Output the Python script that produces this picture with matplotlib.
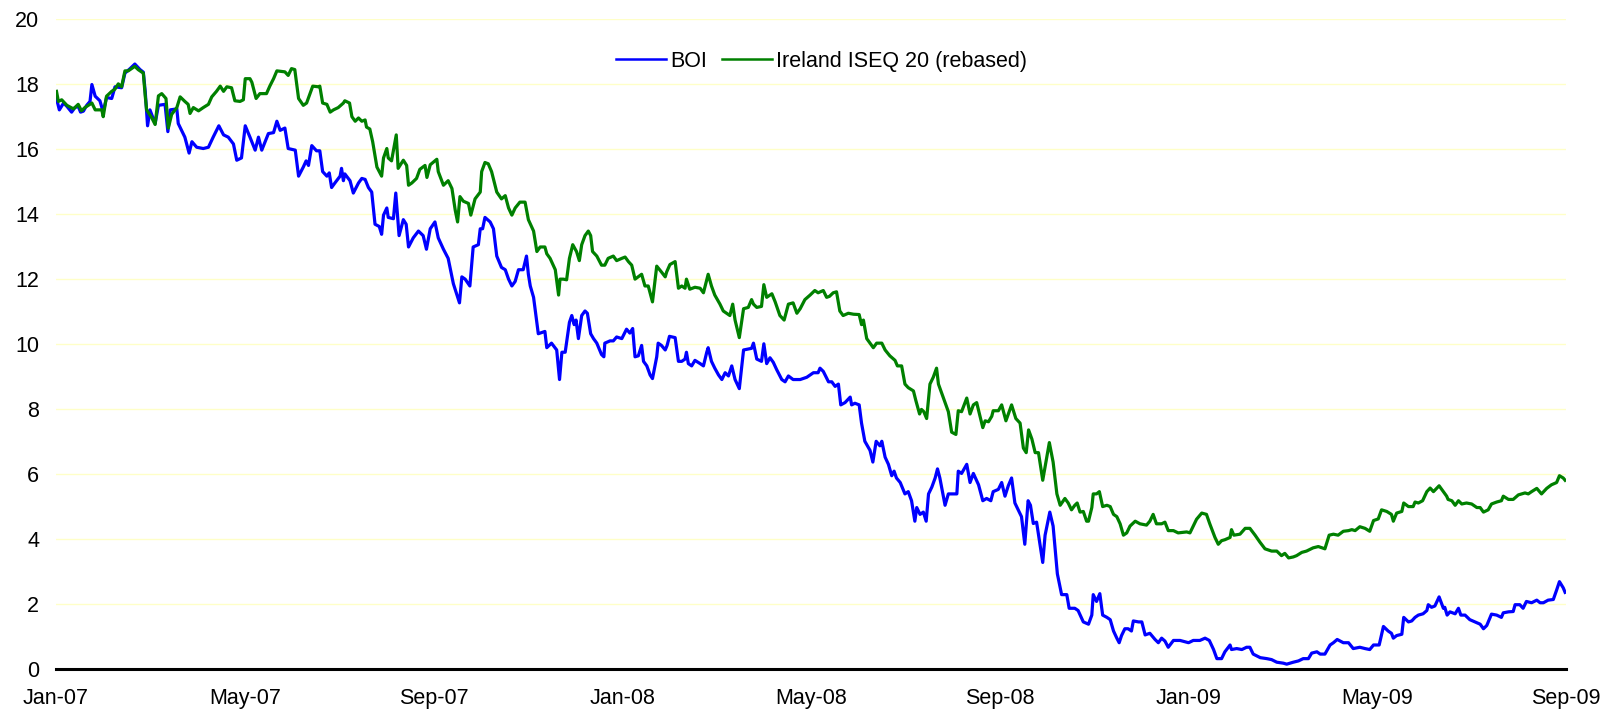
import matplotlib
matplotlib.use("Agg")
import matplotlib.pyplot as plt

plt.rcParams['font.family'] = ['Liberation Sans', 'DejaVu Sans']

# x positions are months since Jan-07
tick_pos = [0, 4, 8, 12, 16, 20, 24, 28, 32]
tick_labels = ["Jan-07", "May-07", "Sep-07", "Jan-08", "May-08", "Sep-08", "Jan-09", "May-09", "Sep-09"]

boi_m = [0.01, 0.07, 0.16, 0.23, 0.33, 0.40, 0.47, 0.52, 0.58, 0.65, 0.72, 0.76, 0.83, 0.93, 1.00, 1.07, 1.18, 1.25, 1.39, 1.46,
         1.57, 1.67, 1.78, 1.85, 1.89, 1.94, 1.99, 2.10, 2.17, 2.31, 2.37, 2.42, 2.56, 2.59, 2.73, 2.82, 2.88, 2.98, 3.12, 3.23,
         3.33, 3.45, 3.55, 3.65, 3.76, 3.83, 3.93, 4.01, 4.11, 4.22, 4.29, 4.36, 4.50, 4.61, 4.68, 4.75, 4.85, 4.92, 5.07, 5.14,
         5.24, 5.30, 5.35, 5.42, 5.52, 5.59, 5.65, 5.74, 5.79, 5.84, 5.91, 6.02, 6.05, 6.09, 6.12, 6.23, 6.30, 6.41, 6.48, 6.55,
         6.62, 6.69, 6.76, 6.85, 6.90, 6.94, 7.01, 7.04, 7.15, 7.20, 7.27, 7.36, 7.42, 7.47, 7.57, 7.68, 7.78, 7.85, 7.93, 8.03,
         8.10, 8.21, 8.31, 8.42, 8.55, 8.60, 8.67, 8.77, 8.84, 8.95, 8.99, 9.04, 9.09, 9.20, 9.27, 9.34, 9.44, 9.52, 9.59, 9.66,
         9.73, 9.80, 9.90, 9.97, 10.01, 10.05, 10.12, 10.22, 10.36, 10.40, 10.50, 10.61, 10.67, 10.72, 10.79, 10.88,
         10.93, 10.98, 11.02, 11.07, 11.14, 11.21, 11.26, 11.33, 11.39, 11.46, 11.56, 11.61, 11.63, 11.74, 11.81, 11.88, 11.99,
         12.09, 12.16, 12.22, 12.27, 12.34, 12.41, 12.45, 12.52, 12.59, 12.64, 12.73, 12.76, 12.83, 12.91, 12.95, 13.00, 13.12,
         13.19, 13.26, 13.33, 13.36, 13.40, 13.47, 13.54, 13.65, 13.72, 13.79, 13.82, 13.89, 13.96, 14.04, 14.11, 14.18, 14.25,
         14.32, 14.39, 14.48, 14.57, 14.74, 14.78, 14.85, 14.95, 15.00, 15.06, 15.13, 15.20, 15.27, 15.38, 15.45, 15.52, 15.62,
         15.77, 15.91, 16.05, 16.15, 16.19, 16.26, 16.37,
         16.44, 16.51, 16.58, 16.63, 16.72, 16.83, 16.86, 16.93, 17.02, 17.07, 17.14, 17.25, 17.31, 17.38, 17.46, 17.50, 17.57,
         17.64, 17.71, 17.76, 17.81, 17.89, 17.99, 18.06, 18.13, 18.20, 18.24, 18.31, 18.38, 18.44, 18.49, 18.56, 18.63, 18.68,
         18.73, 18.84, 18.91, 18.98, 19.09, 19.12, 19.19, 19.30, 19.37, 19.44, 19.55, 19.64, 19.72, 19.81, 19.86, 19.97, 20.04,
         20.11, 20.18, 20.25, 20.32, 20.46, 20.53, 20.60, 20.65, 20.71, 20.78, 20.85, 20.91, 20.96, 21.06, 21.13, 21.22, 21.31,
         21.42, 21.47, 21.59, 21.66, 21.77, 21.88, 21.95, 21.98, 22.05, 22.12, 22.18, 22.27, 22.34, 22.41, 22.48, 22.53, 22.58,
         22.65, 22.72, 22.79, 22.83, 22.94, 23.01, 23.08, 23.18, 23.29, 23.36, 23.43, 23.50, 23.57, 23.68, 23.82, 24.00, 24.10,
         24.24, 24.35, 24.44, 24.53, 24.60, 24.70, 24.77, 24.88, 24.91, 25.02, 25.13, 25.23, 25.30, 25.37, 25.52, 25.66, 25.76,
         25.87, 26.01, 26.08, 26.22, 26.33, 26.43, 26.54, 26.61, 26.72, 26.79, 26.89, 27.00, 27.07, 27.15, 27.28,
         27.39, 27.49, 27.63, 27.74, 27.84, 27.92, 28.04, 28.13, 28.23, 28.30, 28.34, 28.41, 28.52, 28.56, 28.66, 28.73, 28.80,
         28.87, 28.97, 29.05, 29.08, 29.15, 29.22, 29.31, 29.40, 29.43, 29.48, 29.54, 29.65, 29.72, 29.77, 29.86, 29.96, 30.07,
         30.18, 30.25, 30.32, 30.42, 30.53, 30.63, 30.67, 30.78, 30.88, 30.92, 31.02, 31.09, 31.16, 31.27, 31.38, 31.45, 31.52,
         31.62, 31.73, 31.80, 31.86, 31.94, 31.98]
boi_v = [17.56, 17.21, 17.42, 17.32, 17.14, 17.28, 17.32, 17.14, 17.17, 17.35, 17.47, 17.99, 17.63, 17.49, 17.14, 17.59, 17.56, 17.92, 17.89, 18.34,
         18.48, 18.62, 18.45, 18.37, 17.78, 16.72, 17.21, 16.79, 17.35, 17.38, 16.54, 17.21, 17.24, 16.79, 16.37, 15.88, 16.23, 16.06, 16.02, 16.06,
         16.37, 16.72, 16.44, 16.37, 16.16, 15.66, 15.73, 16.72, 16.37, 15.97, 16.37, 15.97, 16.48, 16.51, 16.86, 16.58, 16.65, 16.02, 15.97, 15.17,
         15.45, 15.64, 15.50, 16.11, 15.95, 15.95, 15.31, 15.17, 15.27, 14.82, 14.96, 15.17, 15.41, 15.03, 15.24, 15.03, 14.65, 14.96, 15.10, 15.07,
         14.82, 14.68, 13.69, 13.62, 13.38, 13.97, 14.19, 13.90, 13.86, 14.65, 13.34, 13.83, 13.69, 12.99, 13.27, 13.48, 13.34, 12.92, 13.55, 13.76,
         13.27, 12.92, 12.64, 11.86, 11.27, 12.07, 12.00, 11.79, 12.99, 13.06, 13.55, 13.55, 13.90, 13.76, 13.55, 12.71, 12.36, 12.29, 12.00, 11.79,
         11.93, 12.29, 12.29, 12.71, 12.15, 11.79, 11.44, 10.32, 10.39, 9.89, 10.03, 9.82, 8.91, 9.75, 9.75, 10.67,
         10.88, 10.60, 10.74, 10.17, 10.88, 11.02, 10.95, 10.32, 10.17, 10.03, 9.68, 9.61, 10.03, 10.10, 10.10, 10.22, 10.17,
         10.46, 10.34, 10.48, 9.61, 9.64, 9.96, 9.47, 9.33, 9.05, 8.94, 9.61, 10.03, 9.96, 9.82, 9.96, 10.24, 10.20,
         9.47, 9.47, 9.54, 9.75, 9.40, 9.33, 9.50, 9.40, 9.33, 9.75, 9.89, 9.47, 9.26, 9.05, 8.91, 9.12, 9.02,
         9.33, 8.91, 8.63, 9.82, 9.87, 10.03, 9.54, 9.47, 10.01, 9.40, 9.58, 9.44, 9.22, 8.91, 8.84, 9.02, 8.91,
         8.91, 8.98, 9.12, 9.12, 9.26, 9.16, 8.84,
         8.84, 8.70, 8.77, 8.13, 8.20, 8.37, 8.13, 8.18, 8.13, 7.57, 7.01, 6.73, 6.37, 7.01, 6.87, 7.01, 6.52,
         6.30, 5.95, 6.09, 5.88, 5.74, 5.39, 5.46, 5.18, 4.55, 4.97, 4.76, 4.83, 4.55, 5.39, 5.60, 5.88, 6.16,
         5.88, 5.04, 5.39, 5.39, 5.39, 6.09, 6.02, 6.30, 5.74, 6.02, 5.67, 5.18, 5.25, 5.18, 5.46, 5.53, 5.74,
         5.32, 5.64, 5.88, 5.11, 4.69, 3.84, 5.18, 5.04, 4.48, 4.52, 3.84, 3.28, 4.12, 4.83, 4.40, 2.93, 2.29,
         2.29, 1.87, 1.87, 1.80, 1.45, 1.38, 1.66, 2.29, 2.08, 2.32, 1.66, 1.59, 1.52, 1.17, 0.95, 0.81, 1.03,
         1.24, 1.24, 1.17, 1.48, 1.45, 1.45, 1.05, 1.10, 0.91, 0.81, 0.95, 0.86, 0.67, 0.88, 0.88, 0.81, 0.88,
         0.88, 0.95, 0.88, 0.60, 0.32, 0.32, 0.53, 0.74, 0.60, 0.63, 0.60, 0.67, 0.67, 0.46, 0.35, 0.32, 0.29,
         0.21, 0.18, 0.15, 0.21, 0.25, 0.32, 0.32, 0.49, 0.53, 0.46, 0.46, 0.74, 0.81, 0.91, 0.81,
         0.81, 0.63, 0.67, 0.63, 0.60, 0.74, 0.74, 1.31, 1.17, 1.10, 0.95, 1.03, 1.07, 1.59, 1.45, 1.48, 1.59,
         1.66, 1.70, 1.80, 1.98, 1.90, 1.94, 2.22, 1.87, 1.90, 1.66, 1.76, 1.70, 1.87, 1.66, 1.66, 1.52, 1.45,
         1.38, 1.24, 1.34, 1.69, 1.66, 1.59, 1.73, 1.76, 1.77, 1.98, 1.98, 1.87, 2.08, 2.04, 2.12, 2.04, 2.04,
         2.12, 2.14, 2.43, 2.69, 2.50, 2.36]

iseq_m = [0.01, 0.05, 0.12, 0.23, 0.37, 0.47, 0.54, 0.61, 0.76, 0.83, 0.97, 1.00, 1.07, 1.18, 1.25, 1.32, 1.39, 1.46, 1.53, 1.67,
          1.74, 1.85, 1.89, 1.92, 2.03, 2.10, 2.17, 2.24, 2.33, 2.38, 2.45, 2.56, 2.63, 2.73, 2.80, 2.84, 2.91, 3.02, 3.12, 3.23,
          3.30, 3.40, 3.48, 3.55, 3.62, 3.72, 3.79, 3.90, 3.97, 4.01, 4.11, 4.15, 4.24, 4.32, 4.46, 4.53, 4.61, 4.68, 4.85, 4.92,
          4.99, 5.06, 5.14, 5.24, 5.31,
          5.44, 5.56, 5.59, 5.65, 5.74, 5.81, 5.88, 5.98, 6.09, 6.12, 6.22, 6.27, 6.34, 6.41, 6.48, 6.55, 6.58, 6.65, 6.71, 6.80,
          6.90, 6.94, 7.01, 7.04, 7.11, 7.21, 7.25, 7.36, 7.43, 7.47, 7.54, 7.64, 7.71, 7.82, 7.86, 7.93, 8.07, 8.10, 8.21, 8.31,
          8.39, 8.46, 8.51, 8.56, 8.63, 8.74, 8.79, 8.88, 8.99, 9.02, 9.09, 9.16, 9.23, 9.34, 9.44, 9.52, 9.59, 9.66, 9.73, 9.83,
          9.94, 10.01, 10.12, 10.19, 10.26, 10.36, 10.40, 10.47, 10.58, 10.65, 10.68, 10.75, 10.82,
          10.88, 10.95, 11.03, 11.09, 11.14, 11.21, 11.28, 11.33, 11.37, 11.46, 11.56, 11.63, 11.70, 11.81, 11.88, 11.99, 12.06,
          12.13, 12.20, 12.27, 12.38, 12.41, 12.48, 12.55, 12.64, 12.73, 12.83, 12.91, 12.94, 13.01, 13.12, 13.19, 13.26, 13.33,
          13.36, 13.43, 13.54, 13.65, 13.72, 13.82, 13.89, 13.96, 14.07, 14.14, 14.21, 14.28, 14.34, 14.39, 14.48, 14.57, 14.67,
          14.74, 14.78, 14.85, 14.95, 15.00, 15.06, 15.17, 15.24, 15.34, 15.43, 15.52, 15.62, 15.70, 15.77, 15.87, 15.98, 16.08,
          16.15, 16.26, 16.33,
          16.39, 16.47, 16.54, 16.61, 16.68, 16.79, 16.90, 17.02, 17.07, 17.11, 17.18, 17.25, 17.32, 17.39, 17.50, 17.57, 17.67,
          17.78, 17.83, 17.92, 17.99, 18.06, 18.17, 18.22, 18.30, 18.34, 18.39, 18.45, 18.52, 18.59, 18.66, 18.70, 18.77, 18.84,
          18.91, 18.98, 19.07, 19.12, 19.19, 19.30, 19.37, 19.44, 19.51, 19.58, 19.64, 19.69, 19.76, 19.83, 19.86, 19.97, 20.04,
          20.13, 20.25, 20.34, 20.43, 20.50, 20.56, 20.61, 20.68, 20.75, 20.82, 20.91, 20.96, 21.05, 21.13, 21.21, 21.28, 21.38,
          21.45, 21.52, 21.59, 21.64, 21.70, 21.77, 21.84,
          21.88, 21.95, 21.98, 22.05, 22.11, 22.18, 22.27, 22.34, 22.41, 22.48, 22.55, 22.62, 22.69, 22.76, 22.87, 22.97, 23.11,
          23.18, 23.25, 23.32, 23.43, 23.50, 23.57, 23.68, 23.78, 23.96, 24.03, 24.10, 24.17, 24.28, 24.38, 24.45, 24.56, 24.63,
          24.70, 24.77, 24.88, 24.91, 24.96, 25.09, 25.20, 25.30, 25.41, 25.51, 25.62, 25.76, 25.87, 25.97, 26.04, 26.12, 26.22,
          26.29, 26.40, 26.50, 26.64, 26.75, 26.89, 26.98, 27.07, 27.17, 27.28,
          27.39, 27.46, 27.53, 27.63, 27.74, 27.84, 27.92, 28.02, 28.09, 28.20, 28.30, 28.34, 28.41, 28.52, 28.56, 28.66, 28.76,
          28.80, 28.87, 28.96, 29.05, 29.12, 29.19, 29.31, 29.40, 29.47, 29.50, 29.58, 29.65, 29.72, 29.79, 29.89, 30.00, 30.11,
          30.18, 30.25, 30.35, 30.42, 30.53, 30.63, 30.67, 30.78, 30.88, 30.99, 31.06, 31.13, 31.20, 31.27, 31.38, 31.48, 31.59,
          31.69, 31.80, 31.86, 31.94, 31.98]
iseq_v = [17.78, 17.47, 17.52, 17.35, 17.24, 17.38, 17.18, 17.28, 17.42, 17.21, 17.21, 17.00, 17.63, 17.78, 17.85, 18.01, 17.92, 18.41, 18.41, 18.55,
          18.45, 18.34, 17.64, 17.21, 16.96, 16.76, 17.64, 17.71, 17.56, 16.65, 17.07, 17.28, 17.61, 17.47, 17.38, 17.10, 17.28, 17.18, 17.28, 17.38,
          17.61, 17.78, 17.94, 17.78, 17.92, 17.89, 17.49, 17.47, 17.52, 18.17, 18.17, 18.06, 17.56, 17.71, 17.71, 17.94, 18.17, 18.41, 18.38, 18.27,
          18.48, 18.45, 17.56, 17.35, 17.42,
          17.94, 17.92, 17.94, 17.42, 17.38, 17.14, 17.21, 17.28, 17.42, 17.49, 17.42, 17.00, 16.86, 16.96, 16.86, 16.90, 16.68, 16.62, 16.23, 15.45,
          15.17, 15.73, 16.02, 15.73, 15.64, 16.44, 15.41, 15.66, 15.50, 14.89, 14.96, 15.10, 15.38, 15.50, 15.13, 15.52, 15.69, 15.31, 14.89, 15.03,
          14.79, 14.12, 13.76, 14.54, 14.40, 14.33, 13.97, 14.47, 14.68, 15.31, 15.59, 15.55, 15.31, 14.68, 14.47, 14.57, 14.19, 13.97, 14.19, 14.37,
          14.37, 13.83, 13.48, 12.85, 12.99, 12.99, 12.78, 12.64, 12.29, 11.51, 12.00, 12.00, 11.98,
          12.64, 13.06, 12.85, 12.57, 13.06, 13.34, 13.48, 13.34, 12.85, 12.71, 12.43, 12.43, 12.64, 12.71, 12.57, 12.64, 12.68,
          12.54, 12.43, 12.00, 12.12, 12.15, 11.79, 11.79, 11.30, 12.40, 12.22, 12.07, 12.22, 12.45, 12.54, 11.72, 11.79, 11.72,
          12.00, 11.69, 11.75, 11.72, 11.58, 12.15, 11.79, 11.51, 11.23, 11.02, 10.95, 10.88, 11.23, 10.74, 10.20, 11.09, 11.13,
          11.37, 11.23, 11.13, 11.16, 11.83, 11.44, 11.55, 11.30, 10.88, 10.74, 11.23, 11.27, 10.95, 11.09, 11.37, 11.51, 11.65,
          11.58, 11.65, 11.44,
          11.47, 11.58, 11.61, 11.02, 10.88, 10.95, 10.92, 10.91, 10.60, 10.74, 10.17, 10.03, 9.89, 10.03, 10.03, 9.82, 9.64,
          9.50, 9.33, 9.33, 8.77, 8.66, 8.56, 8.27, 7.85, 7.99, 7.92, 7.71, 8.77, 8.98, 9.26, 8.77, 8.49, 8.20,
          7.92, 7.29, 7.22, 7.95, 7.92, 8.34, 7.85, 8.13, 8.20, 7.78, 7.43, 7.64, 7.61, 7.78, 7.95, 7.95, 8.13,
          7.64, 8.13, 7.71, 7.57, 6.80, 6.66, 7.36, 7.08, 6.66, 6.66, 5.81, 6.23, 6.97, 6.37, 5.39, 5.04, 5.25,
          5.11, 4.90, 5.04, 5.11, 4.83, 4.85, 4.55,
          4.55, 4.97, 5.39, 5.39, 5.46, 5.00, 5.04, 5.00, 4.76, 4.69, 4.47, 4.12, 4.19, 4.40, 4.55, 4.47, 4.43,
          4.55, 4.76, 4.47, 4.47, 4.52, 4.26, 4.26, 4.19, 4.22, 4.19, 4.40, 4.61, 4.80, 4.76, 4.47, 4.05, 3.84,
          3.95, 3.98, 4.05, 4.29, 4.12, 4.15, 4.33, 4.33, 4.12, 3.91, 3.70, 3.63, 3.63, 3.49, 3.56, 3.42, 3.45,
          3.49, 3.59, 3.63, 3.73, 3.77, 3.70, 4.12, 4.15, 4.12, 4.24,
          4.26, 4.29, 4.26, 4.38, 4.33, 4.24, 4.57, 4.62, 4.90, 4.85, 4.76, 4.55, 4.80, 4.85, 5.11, 5.00, 5.00,
          5.14, 5.11, 5.18, 5.46, 5.57, 5.46, 5.64, 5.46, 5.32, 5.22, 5.18, 5.04, 5.18, 5.08, 5.11, 5.08, 4.97,
          4.97, 4.83, 4.90, 5.08, 5.14, 5.18, 5.32, 5.22, 5.22, 5.36, 5.39, 5.42, 5.39, 5.46, 5.56, 5.39, 5.56,
          5.67, 5.74, 5.95, 5.88, 5.81]

fig = plt.figure(figsize=(16.1, 7.17), dpi=100)
ax = fig.add_axes([0.0348, 0.0669, 0.9379, 0.9063])

ax.plot(boi_m, boi_v, color="#0000FF", lw=2.3, label="BOI")
ax.plot(iseq_m, iseq_v, color="#008000", lw=2.3, label="Ireland ISEQ 20 (rebased)")

ax.set_xlim(0, 32)
ax.set_ylim(0, 20)
ax.set_yticks(range(0, 21, 2))
ax.set_xticks(tick_pos)
ax.set_xticklabels(tick_labels)
ax.grid(axis="y", color="#FFFFC8", lw=1.0)
ax.set_axisbelow(True)

for s in ["top", "right", "left"]:
    ax.spines[s].set_visible(False)
ax.spines["bottom"].set_linewidth(2.2)
ax.spines["bottom"].set_color("black")
ax.tick_params(axis="both", length=0, labelsize=15.5)
ax.tick_params(axis="y", pad=12)
ax.tick_params(axis="x", pad=14)

leg = ax.legend(loc="center", bbox_to_anchor=(0.507, 0.935), ncol=2, frameon=False,
                fontsize=15.5, handlelength=2.3, columnspacing=0.7, handletextpad=0.2)
for line in leg.get_lines():
    line.set_linewidth(1.8)

fig.savefig("out.png", dpi=100)
